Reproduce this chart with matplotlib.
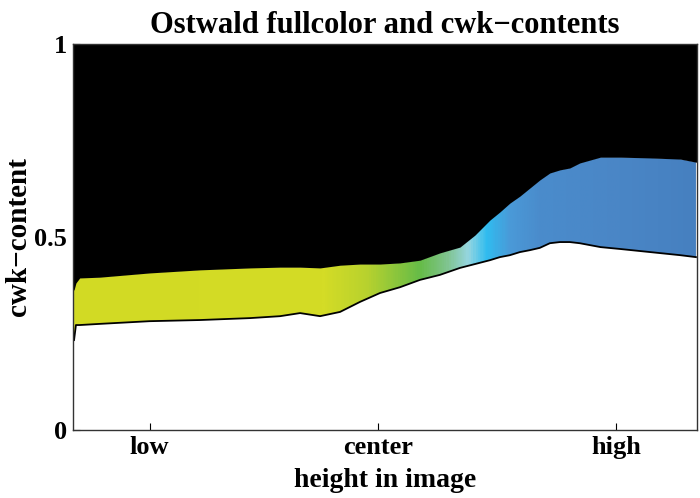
import numpy as np
import matplotlib
matplotlib.use('Agg')
import matplotlib.pyplot as plt
from matplotlib.colors import LinearSegmentedColormap

# position along image height (0..1) and cwk-content bounds of the colour band
x = [0.002, 0.005, 0.011, 0.043, 0.123, 0.204, 0.284, 0.332, 0.364, 0.396,
     0.428, 0.460, 0.492, 0.524, 0.556, 0.588, 0.620, 0.644, 0.668, 0.684,
     0.700, 0.716, 0.732, 0.748, 0.764, 0.780, 0.796, 0.812, 0.845, 0.877,
     0.925, 0.973, 0.998]
upper = [0.363, 0.381, 0.394, 0.396, 0.407, 0.415, 0.420, 0.422, 0.422, 0.420,
         0.427, 0.430, 0.430, 0.433, 0.440, 0.459, 0.474, 0.505, 0.544, 0.565,
         0.588, 0.606, 0.627, 0.648, 0.666, 0.674, 0.679, 0.692, 0.707, 0.707,
         0.705, 0.702, 0.694]
lower = [0.233, 0.272, 0.272, 0.275, 0.282, 0.285, 0.290, 0.295, 0.303, 0.295,
         0.306, 0.332, 0.355, 0.370, 0.389, 0.402, 0.420, 0.430, 0.440, 0.448,
         0.453, 0.461, 0.466, 0.472, 0.484, 0.487, 0.487, 0.484, 0.474, 0.469,
         0.461, 0.453, 0.448]

# fullcolor along the x axis
color_pos = [0.0, 0.40, 0.47, 0.556, 0.60, 0.633, 0.663, 0.700, 0.748, 0.877, 1.0]
color_hex = ['#d2da24', '#d4dc26', '#b8d22e', '#66bc48', '#80c490', '#96d6e0',
             '#30bcf0', '#4a9ad8', '#4a8ccc', '#4a86c6', '#4680c0']

tick_pos = [0.123, 0.489, 0.870]
tick_labels = ['low', 'center', 'high']

plt.rcParams['font.family'] = ['Liberation Serif', 'DejaVu Serif']
plt.rcParams['font.weight'] = 'bold'

fig = plt.figure(figsize=(7, 4.98), dpi=100)
ax = fig.add_axes([0.104, 0.1365, 0.892, 0.775])
ax.set_facecolor('white')

x = np.array(x)
upper = np.array(upper)
lower = np.array(lower)

# black region above the band
ax.fill_between(np.r_[0, x, 1], np.r_[upper[0], upper, upper[-1]], 1,
                color='black', lw=0)
ax.fill_between([0, x[0]], [0, 0], [1, 1], color='white', lw=0)
ax.fill_between([0, x[0]], [upper[0], upper[0]], [1, 1], color='black', lw=0)

# colour band, gradient clipped to the region between the curves
band = ax.fill_between(x, lower, upper, facecolor='none', lw=0)
cmap = LinearSegmentedColormap.from_list('full', list(zip(color_pos, color_hex)))
grad = np.linspace(0, 1, 600).reshape(1, -1)
img = ax.imshow(grad, cmap=cmap, aspect='auto', extent=[0, 1, 0, 1],
                origin='lower', interpolation='bilinear')
img.set_clip_path(band.get_paths()[0], transform=ax.transData)

ax.plot(x, lower, color='black', lw=1.3)

ax.set_xlim(0, 1)
ax.set_ylim(0, 1)
ax.set_xticks(tick_pos)
ax.set_xticklabels(tick_labels)
ax.set_yticks([0, 0.5, 1])
ax.set_yticklabels(['0', '0.5', '1'])
ax.tick_params(direction='in', length=5, width=0.8, labelsize=19, pad=4)
for s in ax.spines.values():
    s.set_color('#333333')
    s.set_linewidth(1.0)

ax.set_xlabel('height in image', fontsize=20, fontweight='bold', labelpad=7)
ax.set_ylabel('cwk\u2212content', fontsize=21, fontweight='bold', labelpad=2)
ax.set_title('Ostwald fullcolor and cwk\u2212contents', fontsize=22,
             fontweight='bold', pad=8)

fig.savefig('out.png', dpi=100)
